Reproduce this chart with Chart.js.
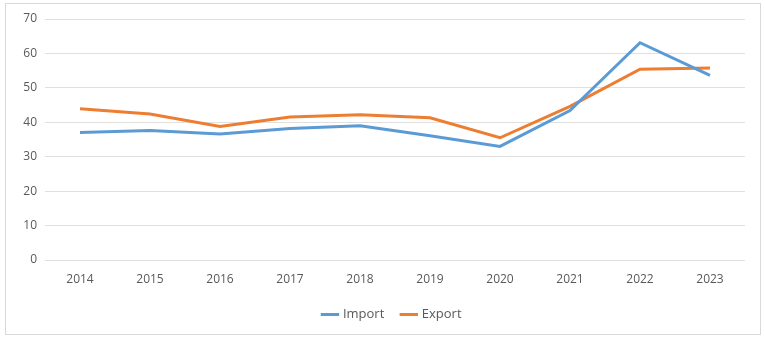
<!DOCTYPE html>
<html>
<head>
<meta charset="utf-8">
<script src="https://cdn.jsdelivr.net/npm/chart.js@4"></script>
<style>
  html, body { margin: 0; padding: 0; background: #fff; }
  .wrap { position: relative; width: 765px; height: 344px; }
  .frame { position: absolute; left: 5px; top: 3px; width: 756px; height: 332px; border: 1px solid #d9d9d9; box-sizing: border-box; }
  canvas { position: absolute; left: 0; top: 0; }
</style>
</head>
<body>
<div class="wrap">
  <div class="frame"></div>
  <canvas id="chart" width="765" height="344"></canvas>
</div>
<script>
// Chart data
const years = ["2014", "2015", "2016", "2017", "2018", "2019", "2020", "2021", "2022", "2023"];
const importValues = [37.0, 37.6, 36.6, 38.2, 39.0, 36.1, 33.0, 43.4, 63.1, 53.6];
const exportValues = [43.9, 42.4, 38.8, 41.5, 42.2, 41.3, 35.5, 44.6, 55.4, 55.8];
const yTicks = [0, 10, 20, 30, 40, 50, 60, 70];

const textColor = "#595959";
const gridColor = "#e0e0e0";
const font = { family: "'Open Sans', sans-serif", size: 12 };

// Nudge the legend a bit right, like the original
const legendShift = {
  id: "legendShift",
  afterLayout(chart) {
    chart.legend.left += 20;
    chart.legend.right += 20;
  }
};

const ctx = document.getElementById("chart").getContext("2d");
new Chart(ctx, {
  type: "line",
  data: {
    labels: years,
    datasets: [
      {
        label: "Import",
        data: importValues,
        borderColor: "#5b9bd5",
        backgroundColor: "#5b9bd5",
        borderWidth: 3,
        pointRadius: 0,
        tension: 0
      },
      {
        label: "Export",
        data: exportValues,
        borderColor: "#ed7d31",
        backgroundColor: "#ed7d31",
        borderWidth: 3,
        pointRadius: 0,
        tension: 0
      }
    ]
  },
  options: {
    responsive: false,
    animation: false,
    layout: {
      padding: { top: 19, right: 20, bottom: 13, left: 0 }
    },
    plugins: {
      legend: {
        position: "bottom",
        labels: {
          color: textColor,
          font: { family: font.family, size: 13 },
          usePointStyle: true,
          pointStyle: "line",
          boxWidth: 16,
          padding: 18
        }
      },
      tooltip: { enabled: false }
    },
    scales: {
      x: {
        offset: true,
        grid: { display: false, drawTicks: false },
        border: { display: false },
        ticks: { color: textColor, font: font, padding: 12, maxRotation: 0 },
        afterFit: (scale) => { scale.height = 30; }
      },
      y: {
        min: 0,
        max: 70,
        afterBuildTicks: (scale) => { scale.ticks = yTicks.map((v) => ({ value: v })); },
        grid: { color: gridColor, lineWidth: 1, drawTicks: false },
        border: { display: false },
        ticks: { color: textColor, font: font, padding: 8 },
        afterFit: (scale) => { scale.width = 45; }
      }
    }
  },
  plugins: [legendShift]
});
</script>
</body>
</html>
